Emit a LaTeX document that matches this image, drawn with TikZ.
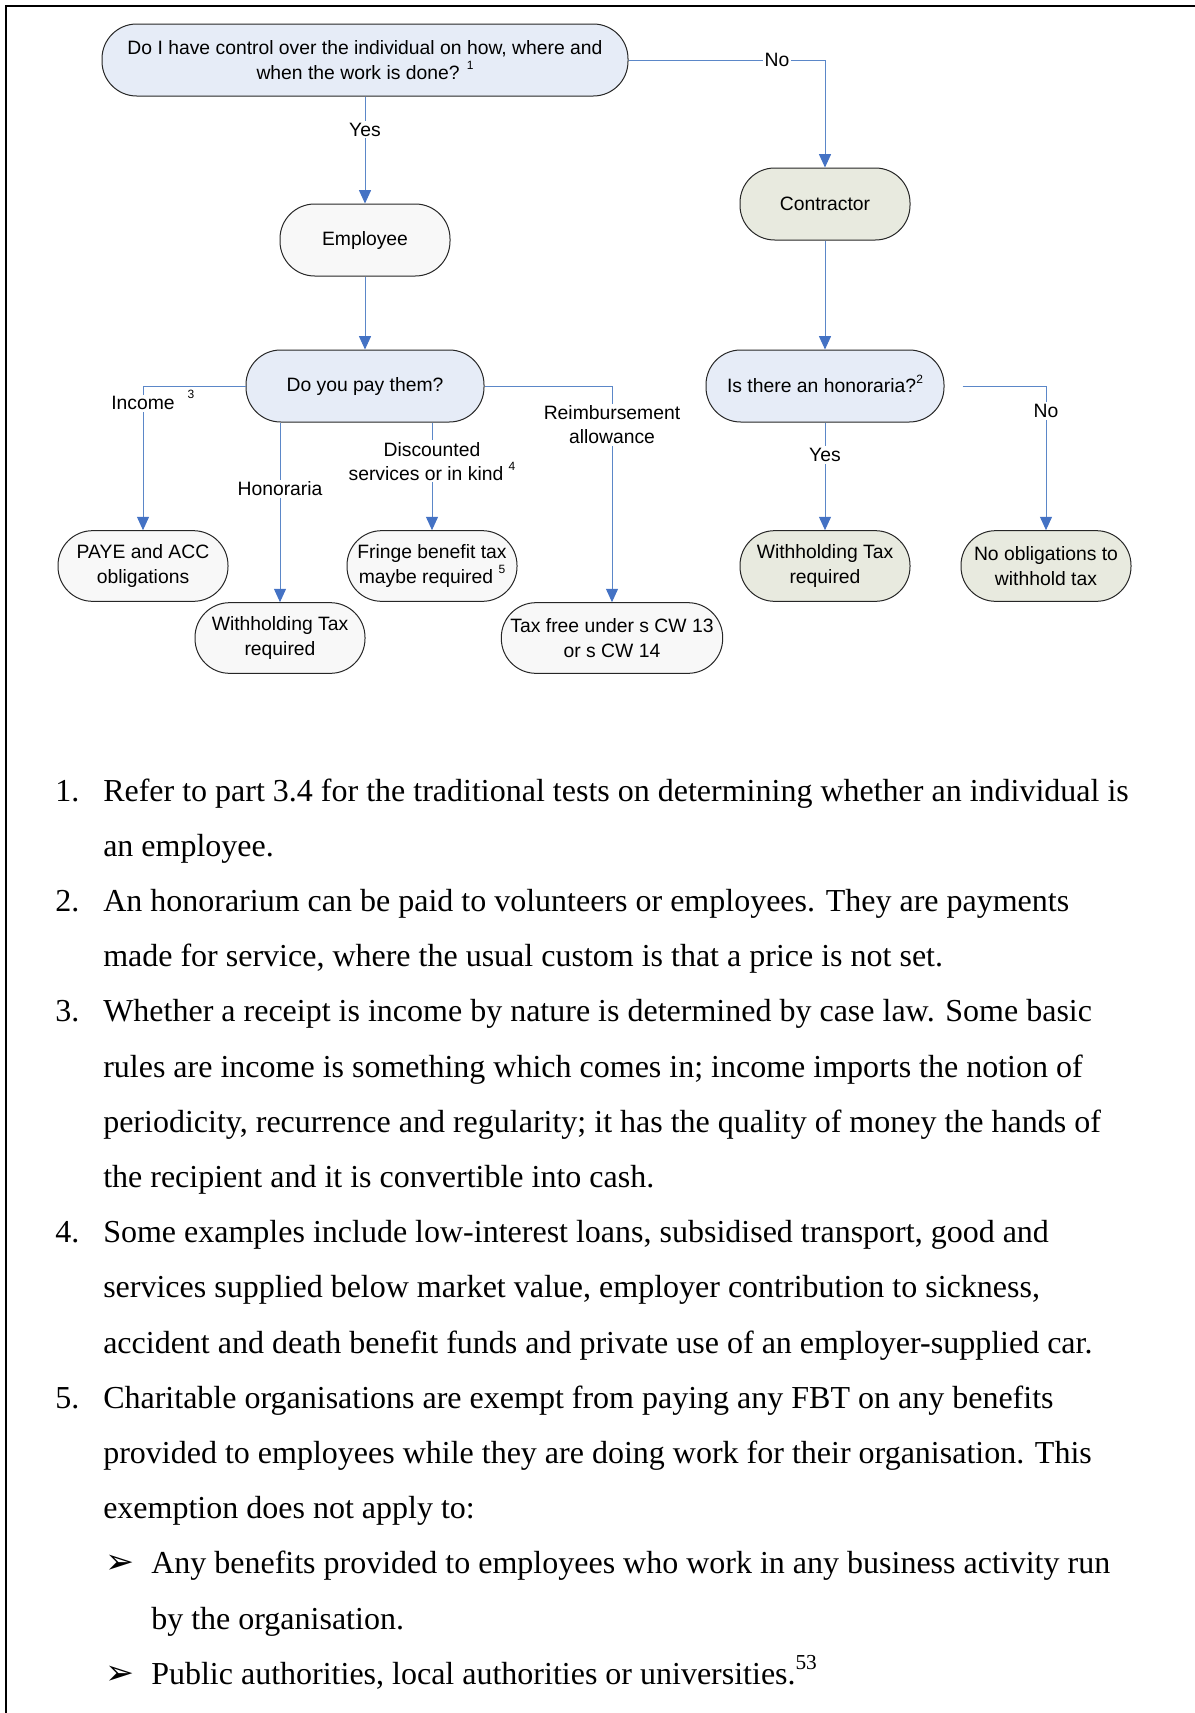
\documentclass[tikz,border=0pt]{standalone}
\usepackage{fontspec}
\setmainfont{Liberation Serif}
\newfontfamily\arialf{Liberation Sans}
\newfontfamily\dejavu{DejaVu Sans}
\usetikzlibrary{arrows.meta}
\definecolor{qfill}{HTML}{E6ECF7}
\definecolor{efill}{HTML}{F8F8F8}
\definecolor{cfill}{HTML}{E8EADF}
\definecolor{conn}{HTML}{5B87C8}
\definecolor{tipc}{HTML}{4472C4}
\newcommand\fsup[1]{\smash{\raisebox{0.5em}{\fontsize{9}{9}\selectfont #1}}}
\newcommand\bsup[1]{\smash{\raisebox{0.45em}{\fontsize{16}{16}\selectfont #1}}}
\newcommand\bul{{\dejavu\fontsize{26}{26}\selectfont ➢}}
\begin{document}
\begin{tikzpicture}[x=0.75pt,y=-0.75pt,
  box/.style={draw=black!85, line width=0.75pt, rounded corners=26pt, align=center,
    font=\arialf\fontsize{14.5}{18.7}\selectfont, inner sep=0pt,
    minimum width=127.5pt, minimum height=54pt},
  qbox/.style={box, fill=qfill, minimum width=178.5pt},
  ebox/.style={box, fill=efill},
  cbox/.style={box, fill=cfill},
  arr/.style={draw=conn, line width=0.75pt, -{Triangle[width=9pt,length=10pt,color=tipc]}},
  lab/.style={fill=white, inner sep=1.5pt, align=center, text=black,
    font=\arialf\fontsize{14.5}{18}\selectfont},
  body/.style={anchor=base west, inner sep=0pt, font=\fontsize{24}{30}\selectfont},
]
\useasboundingbox (0,0) rectangle (1195,1713);
\draw[line width=1.5pt] (6,1713) -- (6,6) -- (1195,6);

% nodes
\node[qbox, minimum width=394.5pt] (top) at (365,60) {Do I have control over the individual on how, where and\\when the work is done? \fsup{1}};
\node[ebox] (emp) at (365,240) {Employee};
\node[cbox] (con) at (825,204) {Contractor};
\node[qbox] (pay) at (365,386) {Do you pay them?};
\node[qbox] (hon) at (825,386) {Is there an honoraria?\fsup{2}};
\node[ebox, minimum height=53pt] (paye) at (143,566) {PAYE and ACC\\obligations};
\node[ebox, minimum height=53pt] (wtl) at (280,638) {Withholding Tax\\required};
\node[ebox, minimum height=53pt] (fringe) at (432,566) {Fringe benefit tax\\maybe required \fsup{5}};
\node[ebox, minimum height=53pt, minimum width=166pt] (taxfree) at (612,638) {Tax free under s CW 13\\or s CW 14};
\node[cbox, minimum height=53pt] (wtr) at (825,566) {Withholding Tax\\required};
\node[cbox, minimum height=53pt] (noob) at (1046,566) {No obligations to\\withhold tax};

% connectors
\draw[arr] (top) -- node[lab, pos=0.31] (yes1) {Yes} (emp);
\draw[arr] (top.east) -| node[lab, pos=0.378] (no1) {No} (con.north);
\draw[arr] (emp) -- (pay);
\draw[arr] (con) -- (hon);
\draw[arr] (pay.west) -| node[lab, pos=0.56] (inc) {Income} (paye.north);
\node[inner sep=0pt, font=\arialf\fontsize{9}{9}\selectfont] (sup3) at (191,394) {3};
\draw[arr] (pay.south -| wtl.north) -- node[lab, pos=0.37] (honl) {Honoraria} (wtl.north);
\draw[arr] (pay.south -| fringe.north) -- node[lab, pos=0.36] (disc) {Discounted\\services or in kind \fsup{4}} (fringe.north);
\draw[arr] (pay.east) -| node[lab, pos=0.59] (reim) {Reimbursement\\allowance} (taxfree.north);
\draw[arr] (hon) -- node[lab, pos=0.30] (yes2) {Yes} (wtr);
\coordinate (honout) at ([xshift=13.5pt]hon.east);
\draw[arr] (honout) -| node[lab, pos=0.586] (no2) {No} (noob.north);

% footnotes
\node[body] (n1) at (55,801) {1.};
\node[body] (l0) at (103,801) {Refer to part 3.4 for the traditional tests on determining whether an individual is};
\node[body] (l1) at (103,856.2) {an employee.};
\node[body] (n2) at (55,911.4) {2.};
\node[body] (l2) at (103,911.4) {An honorarium can be paid to volunteers or employees. They are payments};
\node[body] (l3) at (103,966.6) {made for service, where the usual custom is that a price is not set.};
\node[body] (n3) at (55,1021.8) {3.};
\node[body] (l4) at (103,1021.8) {Whether a receipt is income by nature is determined by case law. Some basic};
\node[body] (l5) at (103,1077) {rules are income is something which comes in; income imports the notion of};
\node[body] (l6) at (103,1132.2) {periodicity, recurrence and regularity; it has the quality of money the hands of};
\node[body] (l7) at (103,1187.4) {the recipient and it is convertible into cash.};
\node[body] (n4) at (55,1242.6) {4.};
\node[body] (l8) at (103,1242.6) {Some examples include low-interest loans, subsidised transport, good and};
\node[body] (l9) at (103,1297.8) {services supplied below market value, employer contribution to sickness,};
\node[body] (l10) at (103,1353) {accident and death benefit funds and private use of an employer-supplied car.};
\node[body] (n5) at (55,1408.2) {5.};
\node[body] (l11) at (103,1408.2) {Charitable organisations are exempt from paying any FBT on any benefits};
\node[body] (l12) at (103,1463.4) {provided to employees while they are doing work for their organisation. This};
\node[body] (l13) at (103,1518.6) {exemption does not apply to:};
\node[body] (b1) at (105,1573.8) {\bul};
\node[body] (l14) at (151,1573.8) {Any benefits provided to employees who work in any business activity run};
\node[body] (l15) at (151,1629) {by the organisation.};
\node[body] (b2) at (105,1684.2) {\bul};
\node[body] (l16) at (151,1684.2) {Public authorities, local authorities or universities.\bsup{53}};
\end{tikzpicture}
\end{document}
